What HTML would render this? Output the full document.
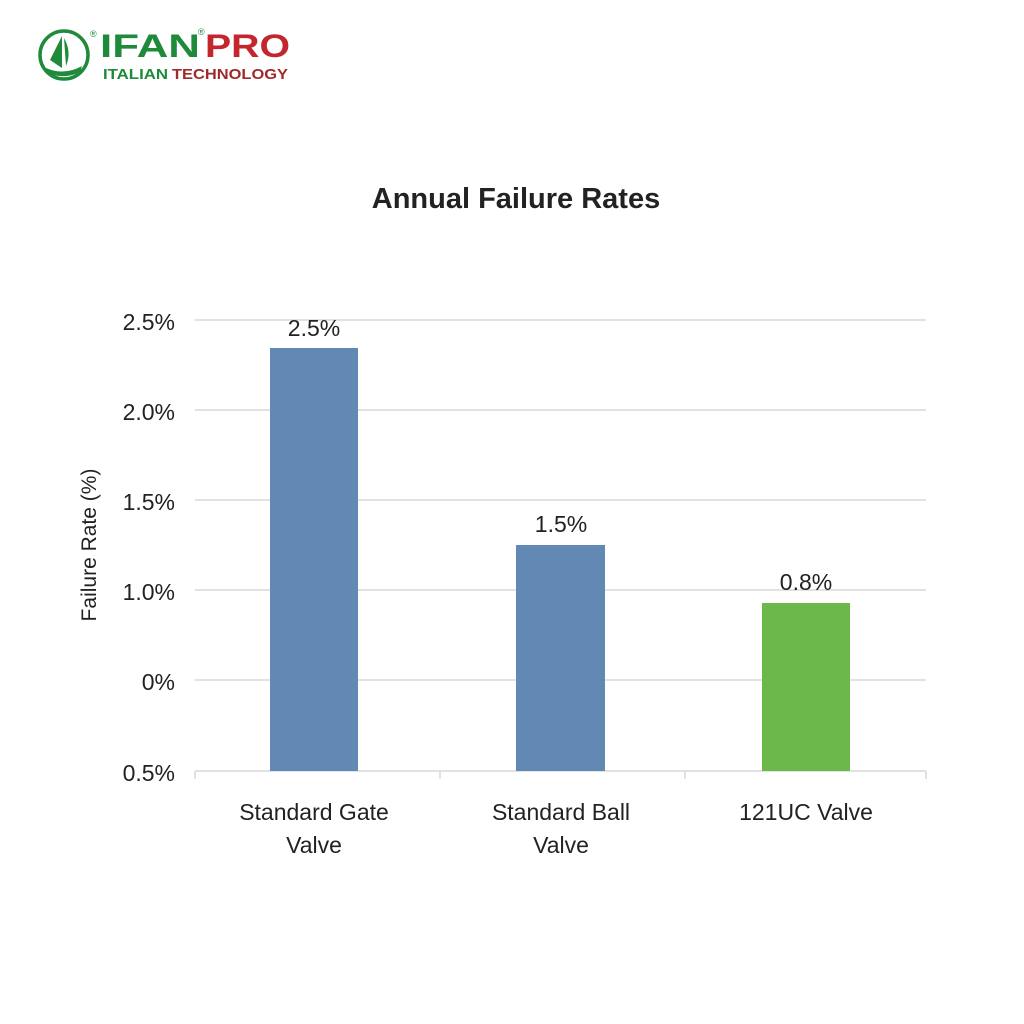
<!DOCTYPE html>
<html><head><meta charset="utf-8"><style>
html,body{margin:0;padding:0;background:#fff;}
body{width:1024px;height:1024px;position:relative;overflow:hidden;font-family:"Liberation Sans","DejaVu Sans",sans-serif;}
</style></head><body>
<svg width="1024" height="1024" viewBox="0 0 1024 1024" xmlns="http://www.w3.org/2000/svg" style="position:absolute;left:0;top:0">
<!-- logo -->
<circle cx="64" cy="55" r="24" fill="none" stroke="#1e8a3a" stroke-width="3.5"/>
<path d="M62 36 L62 68 L50 60 Z" fill="#1e8a3a"/>
<path d="M64 38 Q72 52 66 66 Z" fill="#1e8a3a"/>
<path d="M46 68 Q64 76 82 66 L80 72 Q64 80 48 73 Z" fill="#1e8a3a"/>
<text x="90" y="37" font-size="9" fill="#1e8a3a">®</text>
<text x="100" y="57" font-size="32" font-weight="bold" fill="#1e8a3a" textLength="100" lengthAdjust="spacingAndGlyphs">IFAN</text>
<text x="198" y="35" font-size="9" fill="#1e8a3a">®</text>
<text x="205" y="57" font-size="32" font-weight="bold" fill="#c4262e" textLength="85" lengthAdjust="spacingAndGlyphs">PRO</text>
<text x="103" y="79" font-size="15" font-weight="bold" fill="#1e8a3a" textLength="65" lengthAdjust="spacingAndGlyphs">ITALIAN</text>
<text x="172" y="79" font-size="15" font-weight="bold" fill="#9e2a2a" textLength="116" lengthAdjust="spacingAndGlyphs">TECHNOLOGY</text>
<!-- title -->
<text x="516" y="208" font-size="29" font-weight="bold" text-anchor="middle" fill="#222">Annual Failure Rates</text>
<!-- grid -->
<g stroke="#d9d9d9" stroke-width="1.5">
<line x1="195" y1="320" x2="926" y2="320"/>
<line x1="195" y1="410" x2="926" y2="410"/>
<line x1="195" y1="500" x2="926" y2="500"/>
<line x1="195" y1="590" x2="926" y2="590"/>
<line x1="195" y1="680" x2="926" y2="680"/>
<line x1="195" y1="771" x2="926" y2="771"/>
<line x1="195" y1="771" x2="195" y2="779"/>
<line x1="440" y1="771" x2="440" y2="779"/>
<line x1="685" y1="771" x2="685" y2="779"/>
<line x1="926" y1="771" x2="926" y2="779"/>
</g>
<g font-size="23" fill="#222" text-anchor="end">
<text x="175" y="330">2.5%</text>
<text x="175" y="420">2.0%</text>
<text x="175" y="510">1.5%</text>
<text x="175" y="600">1.0%</text>
<text x="175" y="690">0%</text>
<text x="175" y="781">0.5%</text>
</g>
<text transform="translate(96,545) rotate(-90)" font-size="21" text-anchor="middle" fill="#222">Failure Rate (%)</text>
<!-- bars -->
<rect x="270" y="348" width="88" height="423" fill="#6189b3"/>
<rect x="516" y="545" width="89" height="226" fill="#6189b3"/>
<rect x="762" y="603" width="88" height="168" fill="#6cb84a"/>
<g font-size="23" fill="#222" text-anchor="middle">
<text x="314" y="336">2.5%</text>
<text x="561" y="532">1.5%</text>
<text x="806" y="590">0.8%</text>
<text x="314" y="820">Standard Gate</text>
<text x="314" y="853">Valve</text>
<text x="561" y="820">Standard Ball</text>
<text x="561" y="853">Valve</text>
<text x="806" y="820">121UC Valve</text>
</g>
</svg>
</body></html>
